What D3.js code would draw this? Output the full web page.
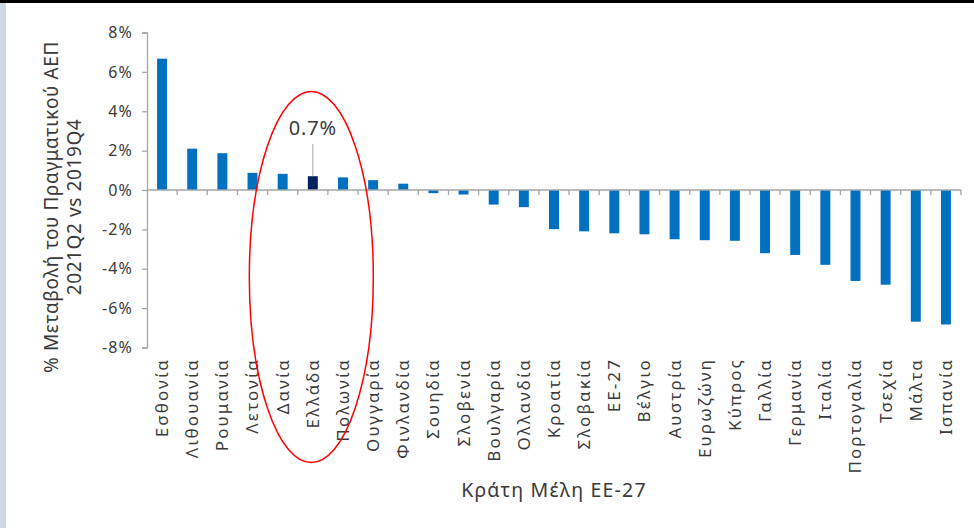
<!DOCTYPE html>
<html>
<head>
<meta charset="utf-8">
<script src="https://cdn.jsdelivr.net/npm/d3@7"></script>
<style>
  html, body { margin: 0; padding: 0; background: #fff; }
  svg { display: block; font-family: "Noto Sans", "DejaVu Sans", sans-serif; }
</style>
</head>
<body>
<svg id="chart" width="974" height="528"></svg>
<script>
const categories = ["Εσθονία","Λιθουανία","Ρουμανία","Λετονία","Δανία","Ελλάδα","Πολωνία","Ουγγαρία","Φινλανδία","Σουηδία","Σλοβενία","Βουλγαρία","Ολλανδία","Κροατία","Σλοβακία","ΕΕ-27","Βέλγιο","Αυστρία","Ευρωζώνη","Κύπρος","Γαλλία","Γερμανία","Ιταλία","Πορτογαλία","Τσεχία","Μάλτα","Ισπανία"];
const values = [6.67, 2.10, 1.87, 0.87, 0.82, 0.70, 0.64, 0.50, 0.32, -0.16, -0.23, -0.74, -0.87, -1.99, -2.10, -2.20, -2.25, -2.50, -2.55, -2.58, -3.21, -3.30, -3.80, -4.62, -4.81, -6.69, -6.83];
const yTicks = [-8, -6, -4, -2, 0, 2, 4, 6, 8];
const highlight = "Ελλάδα";
const annotationLabel = "0.7%";
const yTitleLines = ["% Μεταβολή του Πραγματικού ΑΕΠ", "2021Q2 vs 2019Q4"];
const xTitle = "Κράτη Μέλη ΕΕ-27";

const svg = d3.select("#chart");
const W = 974, H = 528;

// frame decorations
svg.append("rect").attr("x", 0).attr("y", 0).attr("width", W).attr("height", H).attr("fill", "#fff");
svg.append("rect").attr("x", 0).attr("y", 3).attr("width", 6).attr("height", H - 3).attr("fill", "#CFD7E0");
svg.append("rect").attr("x", 0).attr("y", 0).attr("width", W).attr("height", 3).attr("fill", "#000");

const x0 = 147, x1 = 961;
const po = 0.335;
const x = d3.scaleBand().domain(categories).range([x0, x1]).paddingInner(0.67).paddingOuter(po);
const y = d3.scaleLinear().domain([-8, 8]).range([347.5, 32.5]);
const step = x.step();
const axisColor = "#A6A6A6";
const textColor = "#3A3A3A";

// y axis
const yAxis = d3.axisLeft(y).tickValues(yTicks).tickSize(5).tickPadding(9)
  .tickFormat(d => d + "%");
const gy = svg.append("g").attr("transform", `translate(${x0},0)`).call(yAxis);
gy.select(".domain").attr("stroke", axisColor).attr("stroke-width", 1.3);
gy.selectAll(".tick line").attr("stroke", axisColor).attr("stroke-width", 1.3);
gy.selectAll(".tick text").attr("fill", textColor).attr("font-size", 16)
  .attr("letter-spacing", 1.1)
  .attr("font-family", "'Noto Sans', sans-serif");

// bars
svg.append("g").selectAll("rect").data(categories).join("rect")
  .attr("x", d => x(d))
  .attr("width", x.bandwidth())
  .attr("y", (d, i) => y(Math.max(0, values[i])))
  .attr("height", (d, i) => Math.abs(y(values[i]) - y(0)))
  .attr("fill", d => d === highlight ? "#002060" : "#0070C0");

// x axis line with category boundary ticks
const gx = svg.append("g");
gx.append("line").attr("x1", x0).attr("x2", x1).attr("y1", y(0)).attr("y2", y(0))
  .attr("stroke", axisColor).attr("stroke-width", 1.5);
const boundary = d => x(d) - po * step + step;
gx.selectAll("line.tk").data(categories).join("line").attr("class", "tk")
  .attr("x1", boundary).attr("x2", boundary)
  .attr("y1", y(0)).attr("y2", y(0) + 5)
  .attr("stroke", axisColor).attr("stroke-width", 1.3);

// x labels
svg.append("g").selectAll("text").data(categories).join("text")
  .attr("transform", d => `translate(${x(d) + x.bandwidth() / 2},358) rotate(-90)`)
  .attr("text-anchor", "end")
  .attr("dy", "0.35em")
  .attr("font-size", 17)
  .attr("letter-spacing", 2.1)
  .attr("fill", textColor)
  .text(d => d);

// y title
const yt = svg.append("text")
  .attr("transform", `translate(58,207) rotate(-90)`)
  .attr("text-anchor", "middle")
  .attr("font-size", 19)
  .attr("letter-spacing", 0.6)
  .attr("fill", textColor);
yt.selectAll("tspan").data(yTitleLines).join("tspan")
  .attr("x", 0).attr("dy", (d, i) => i === 0 ? 0 : 23).text(d => d);

// x title
svg.append("text").attr("x", 554).attr("y", 497).attr("text-anchor", "middle")
  .attr("font-size", 19.5).attr("letter-spacing", 1.2).attr("fill", textColor).text(xTitle);

// annotation for highlight
const hi = categories.indexOf(highlight);
const hx = x(highlight) + x.bandwidth() / 2;
svg.append("line").attr("x1", hx).attr("x2", hx).attr("y1", 144).attr("y2", y(values[hi]))
  .attr("stroke", "#A6A6A6").attr("stroke-width", 1);
svg.append("text").attr("x", hx).attr("y", 135).attr("text-anchor", "middle")
  .attr("font-size", 20).attr("letter-spacing", 0.8).attr("fill", textColor).text(annotationLabel);

// red ellipse
svg.append("ellipse").attr("cx", hx - 1.5).attr("cy", 277).attr("rx", 62).attr("ry", 185.5)
  .attr("fill", "none").attr("stroke", "#FF0000").attr("stroke-width", 1.5);
</script>
</body>
</html>
